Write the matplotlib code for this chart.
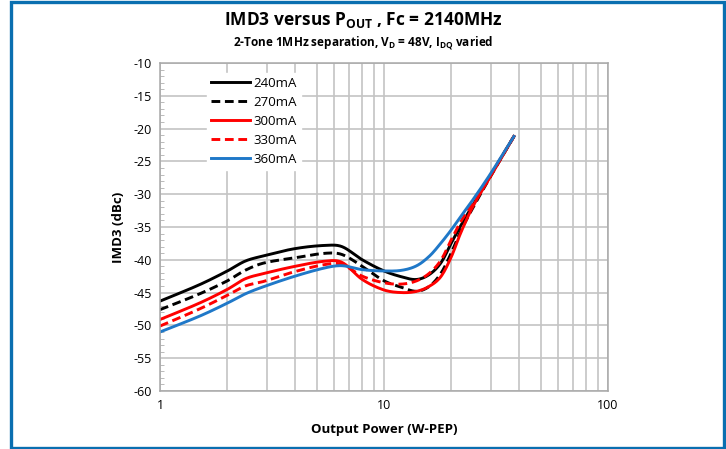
import numpy as np
import matplotlib
matplotlib.use("Agg")
import matplotlib.pyplot as plt
from matplotlib.patches import Rectangle
from matplotlib.ticker import LogLocator, FixedLocator, MultipleLocator, NullFormatter

plt.rcParams["font.family"] = ["Open Sans", "DejaVu Sans"]
plt.rcParams["mathtext.fontset"] = "custom"
plt.rcParams["mathtext.rm"] = "Open Sans"
plt.rcParams["mathtext.bf"] = "Open Sans:bold"
plt.rcParams["axes.unicode_minus"] = False

# ---- data ----
pout = [1, 1.5, 2, 2.4, 2.9, 4, 5.5, 6.5, 8, 10, 12, 14, 16, 18, 20, 22, 25, 30, 38]

imd_240 = [-46.3, -43.8, -41.7, -40.2, -39.4, -38.3, -37.8, -38.0, -40.0, -41.7,
           -42.6, -43.0, -42.2, -40.4, -37.4, -34.8, -31.6, -27.1, -21.2]
imd_270 = [-47.6, -45.2, -43.2, -41.6, -40.5, -39.7, -39.0, -39.2, -41.0, -43.2,
           -44.2, -44.8, -44.0, -42.0, -38.9, -35.6, -32.0, -27.2, -21.2]
imd_300 = [-49.1, -46.6, -44.5, -42.9, -42.1, -41.0, -40.2, -40.4, -43.0, -44.6,
           -45.0, -44.8, -44.0, -42.5, -39.5, -35.9, -31.8, -27.2, -21.2]
imd_330 = [-50.1, -47.5, -45.4, -44.0, -43.3, -41.8, -40.7, -40.7, -42.5, -43.5,
           -43.7, -43.2, -42.0, -40.0, -36.9, -34.2, -31.3, -27.0, -21.2]
imd_360 = [-51.0, -48.6, -46.6, -45.2, -44.1, -42.5, -41.2, -40.9, -41.5, -41.7,
           -41.6, -40.9, -39.4, -37.4, -35.4, -33.4, -30.8, -26.8, -21.2]

labels = ["240mA", "270mA", "300mA", "330mA", "360mA"]
series = [imd_240, imd_270, imd_300, imd_330, imd_360]
colors = ["black", "black", "#ff0000", "#ff0000", "#1f78c8"]
styles = ["-", "--", "-", "--", "-"]

yticks = list(range(-60, -5, 5))
xticks = [1, 10, 100]
xticklabels = ["1", "10", "100"]


def smooth(xs, pts, xf):
    # cubic hermite (catmull-rom style) through the read points, in log-x
    n = len(xs)
    yf = np.zeros_like(xf)
    for i in range(n - 1):
        x0, x1 = xs[i], xs[i + 1]
        m0 = (pts[min(i + 1, n - 1)] - pts[max(i - 1, 0)]) / (xs[min(i + 1, n - 1)] - xs[max(i - 1, 0)])
        m1 = (pts[min(i + 2, n - 1)] - pts[i]) / (xs[min(i + 2, n - 1)] - xs[i])
        sel = (xf >= x0) & (xf <= x1)
        t = (xf[sel] - x0) / (x1 - x0)
        h = x1 - x0
        yf[sel] = ((2 * t**3 - 3 * t**2 + 1) * pts[i] + (t**3 - 2 * t**2 + t) * h * m0
                   + (-2 * t**3 + 3 * t**2) * pts[i + 1] + (t**3 - t**2) * h * m1)
    return yf


# ---- figure ----
fig = plt.figure(figsize=(7.26, 4.49), dpi=100)
ax = fig.add_axes([160 / 726, 1 - 391 / 449, 448 / 726, 328 / 449])

xs = np.log10(pout)
xf = np.linspace(xs[0], xs[-1], 300)
for lab, ys, c, ls in zip(labels, series, colors, styles):
    yf = smooth(xs, np.array(ys), xf)
    ax.plot(10 ** xf, yf, color=c, ls=ls, lw=2.1, label=lab,
            dashes=(3, 1.6) if ls == "--" else (None, None))

ax.set_xscale("log")
ax.set_xlim(1, 100)
ax.set_ylim(-60, -10)
ax.xaxis.set_major_locator(FixedLocator(xticks))
ax.set_xticklabels(xticklabels)
ax.xaxis.set_minor_locator(LogLocator(base=10, subs=np.arange(2, 10)))
ax.xaxis.set_minor_formatter(NullFormatter())
ax.yaxis.set_major_locator(FixedLocator(yticks))
ax.yaxis.set_minor_locator(MultipleLocator(1))

ax.grid(True, which="major", color="#c4c4c4", lw=1.2)
ax.grid(True, which="minor", axis="x", color="#c4c4c4", lw=1.2)
ax.set_axisbelow(True)
ax.tick_params(axis="both", which="major", length=0, labelsize=9, pad=6)
ax.tick_params(axis="x", which="minor", length=0)
ax.tick_params(axis="y", which="minor", direction="in", length=3, color="#b0b0b0")
for sp in ax.spines.values():
    sp.set_color("#a8a8a8")
    sp.set_linewidth(1.1)

ax.set_xlabel("Output Power (W-PEP)", fontsize=9.5, fontweight="bold", labelpad=8)
ax.set_ylabel("IMD3 (dBc)", fontsize=9.5, fontweight="bold", labelpad=6)

leg = ax.legend(loc="upper left", bbox_to_anchor=(0.09, 0.99), frameon=True,
                fancybox=False, edgecolor="white", framealpha=1, fontsize=9.5,
                handlelength=3.0, handletextpad=0.2, labelspacing=0.45,
                borderpad=0.3)

fig.text(0.5, 0.955, r"IMD3 versus P$_\mathbf{OUT}$ , Fc = 2140MHz",
         ha="center", va="center", fontsize=12.5, fontweight="bold")
fig.text(0.5, 0.905, r"2-Tone 1MHz separation, V$_\mathbf{D}$ = 48V, I$_\mathbf{DQ}$ varied",
         ha="center", va="center", fontsize=8.5, fontweight="bold")

# blue frame around the picture
fig.patches.append(Rectangle((10.5 / 726, 1.5 / 449), 713 / 726, 445.5 / 449,
                             transform=fig.transFigure, fill=False,
                             edgecolor="#0a6fb0", lw=2.4))

fig.savefig("out.png", dpi=100)
